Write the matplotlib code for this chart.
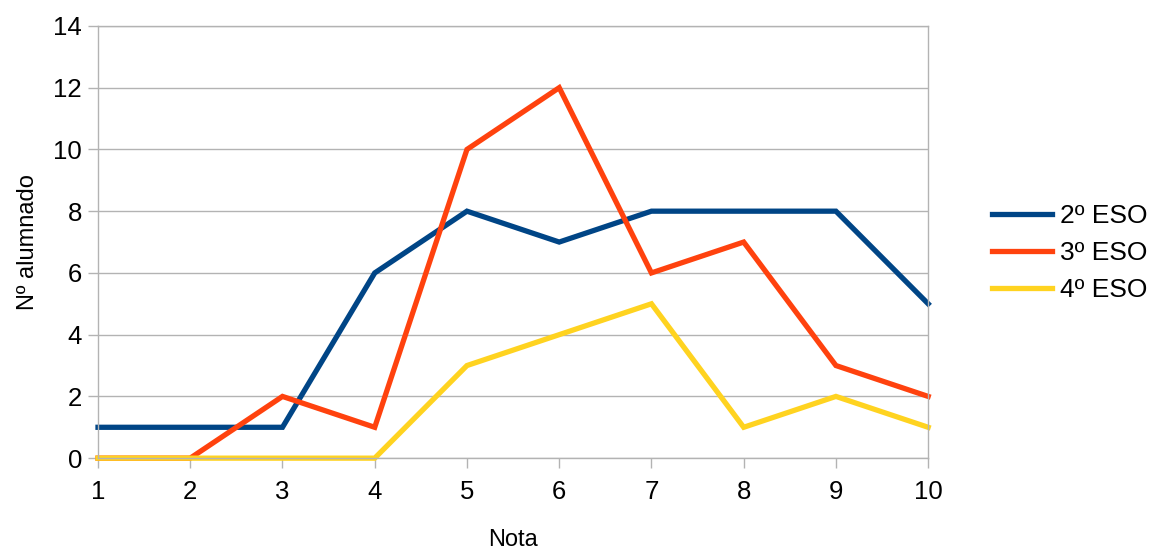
import matplotlib.pyplot as plt

plt.rcParams['font.family'] = ['Liberation Sans', 'DejaVu Sans']

# notas y numero de alumnos por curso
notas = [1, 2, 3, 4, 5, 6, 7, 8, 9, 10]
eso2 = [1, 1, 1, 6, 8, 7, 8, 8, 8, 5]
eso3 = [0, 0, 2, 1, 10, 12, 6, 7, 3, 2]
eso4 = [0, 0, 0, 0, 3, 4, 5, 1, 2, 1]
cursos = ['2º ESO', '3º ESO', '4º ESO']
colores = ['#004586', '#ff420e', '#ffd320']

fig = plt.figure(figsize=(11.53, 5.52), dpi=100)
ax = fig.add_axes([0.085, 0.170, 0.72, 0.783])

for serie, nombre, color in zip([eso2, eso3, eso4], cursos, colores):
    ax.plot(notas, serie, color=color, linewidth=3.8, label=nombre,
            solid_joinstyle='miter', clip_on=False)

ax.set_xlim(1, 10)
ax.set_ylim(0, 14)
ax.set_xticks(notas)
ax.set_yticks(range(0, 15, 2))
ax.yaxis.grid(True, color='#b3b3b3', linewidth=1)
ax.set_axisbelow(True)
for s in ax.spines.values():
    s.set_color('#b3b3b3')
    s.set_linewidth(1)
ax.tick_params(axis='both', labelsize=18.5, color='#b3b3b3', length=7.5, width=1)
ax.tick_params(axis='x', pad=8)
ax.tick_params(axis='y', pad=4)

ax.set_xlabel('Nota', fontsize=17, labelpad=18)
ax.set_ylabel('Nº alumnado', fontsize=17, labelpad=10)

leg = ax.legend(loc='center left', bbox_to_anchor=(1.077, 0.4745), frameon=False,
                fontsize=19, handlelength=2.27, handletextpad=0.3,
                labelspacing=0.48, borderpad=0, borderaxespad=0)

fig.savefig('out.png', dpi=100)
